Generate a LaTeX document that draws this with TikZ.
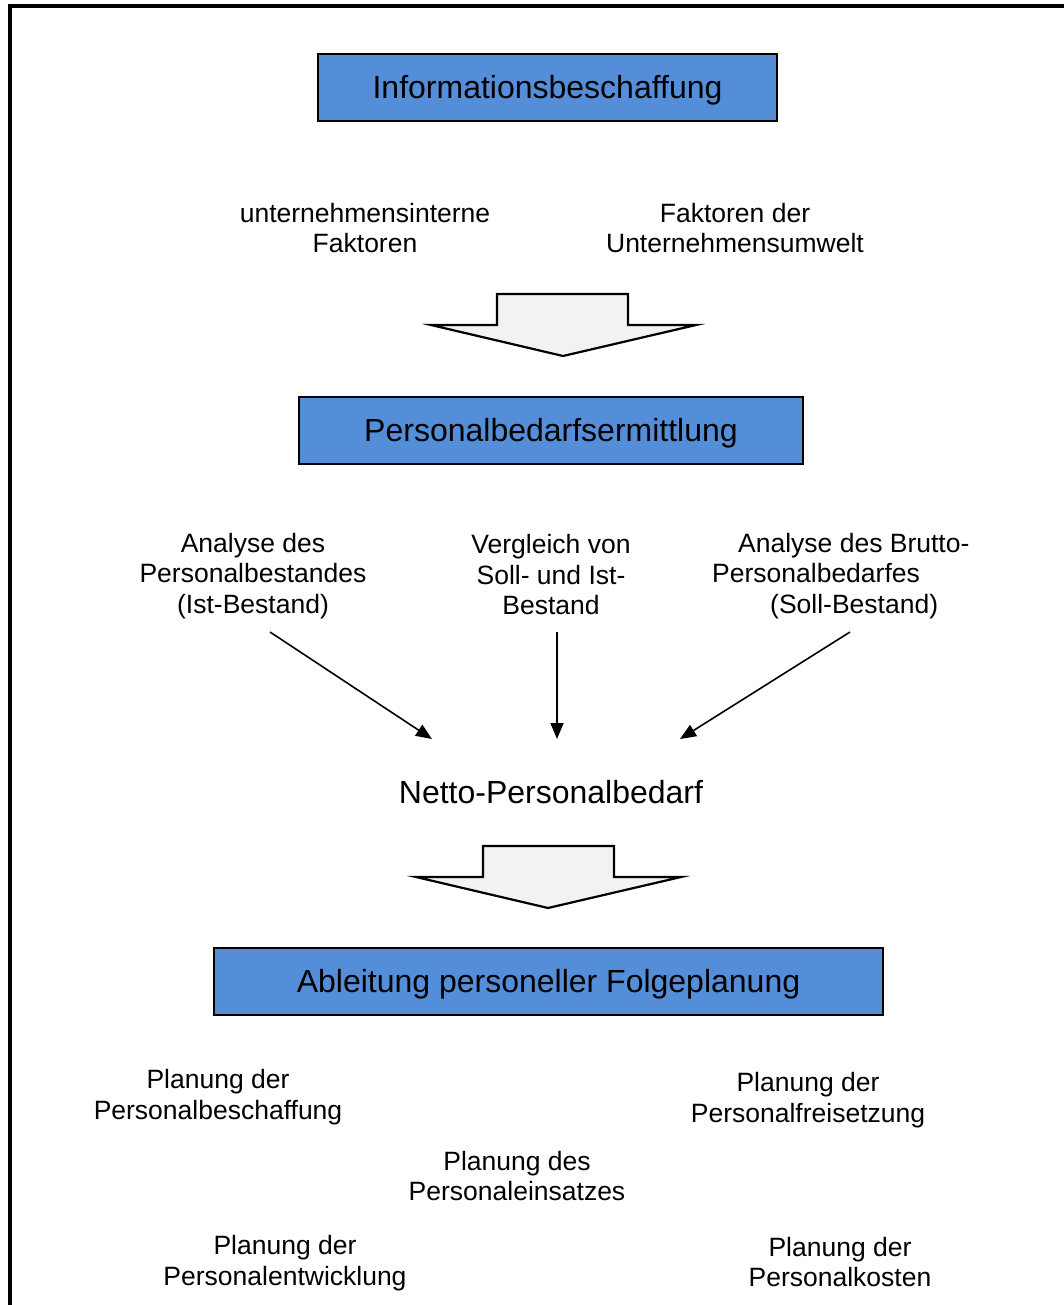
\documentclass[tikz,border=0pt]{standalone}
\usepackage{fontspec}
\setmainfont{Liberation Sans}
\usetikzlibrary{arrows.meta}
\definecolor{boxblue}{HTML}{558ED8}
\definecolor{arrowfill}{HTML}{F2F2F2}
\begin{document}
\begin{tikzpicture}[x=1pt,y=-1pt,
  titlebox/.style={draw=black,line width=2pt,fill=boxblue,inner sep=0pt,
    text height=26pt,text depth=4pt,font=\fontsize{32}{37}\selectfont},
  label/.style={align=center,inner sep=0pt,font=\fontsize{26.5}{30.5}\selectfont},
  flow/.style={line width=1.6pt,-{Triangle[length=16pt,width=13pt]}},
  bigarrow/.style={draw=black,line width=2.2pt,fill=arrowfill,line join=miter}]
\useasboundingbox (0,0) rectangle (1064,1305);
\clip (0,0) rectangle (1064,1305);
% outer frame
\draw[line width=4pt] (10,6) rectangle (1080,1330);

% stage boxes
\node[titlebox,minimum width=459pt,minimum height=67pt] (info) at (547.5,88) {Informationsbeschaffung};
\node[titlebox,minimum width=504pt,minimum height=67pt] (bedarf) at (551,430) {Personalbedarfsermittlung};
\node[titlebox,minimum width=669pt,minimum height=67pt] (folge) at (548.5,981) {Ableitung personeller Folgeplanung};

% information sources
\node[label] (intern) at (365,228) {unternehmensinterne\\Faktoren};
\node[label] (umwelt) at (735,228) {Faktoren der\\Unternehmensumwelt};

% block arrows
\draw[bigarrow] (497,294) -- (628,294) -- (628,325) -- (696,325) -- (563,356)
  -- (431,325) -- (497,325) -- cycle;
\draw[bigarrow] (483,846) -- (614,846) -- (614,877) -- (681,877) -- (548,908)
  -- (416,877) -- (483,877) -- cycle;

% analysis steps
\node[label] (ist) at (253,576) {Analyse des\\Personalbestandes\\(Ist-Bestand)};
\node[label] (vergleich) at (551,575) {Vergleich von\\Soll- und Ist-\\Bestand};
\node[label,align=left,anchor=west] (soll) at (712,576)
  {\hspace*{26pt}Analyse des Brutto-\\Personalbedarfes\\\hspace*{58pt}(Soll-Bestand)};

\node[font=\fontsize{32}{37}\selectfont,inner sep=0pt] (netto) at (551,792) {Netto-Personalbedarf};

\coordinate (istout) at (270,632);
\coordinate (istin) at (432,739);
\coordinate (vglout) at (557,632);
\coordinate (vglin) at (557,739);
\coordinate (sollout) at (850,632);
\coordinate (sollin) at (680,739);
\draw[flow] (istout) -- (istin);
\draw[flow] (vglout) -- (vglin);
\draw[flow] (sollout) -- (sollin);

% follow-up planning areas
\node[label] (beschaffung) at (218,1097) {Planung der\\Personalbeschaffung};
\node[label] (freisetzung) at (808,1100) {Planung der\\Personalfreisetzung};
\node[label] (einsatz) at (517,1176) {Planung des\\Personaleinsatzes};
\node[label] (entwicklung) at (285,1263) {Planung der\\Personalentwicklung};
\node[label] (kosten) at (840,1262) {Planung der\\Personalkosten};
\end{tikzpicture}
\end{document}
